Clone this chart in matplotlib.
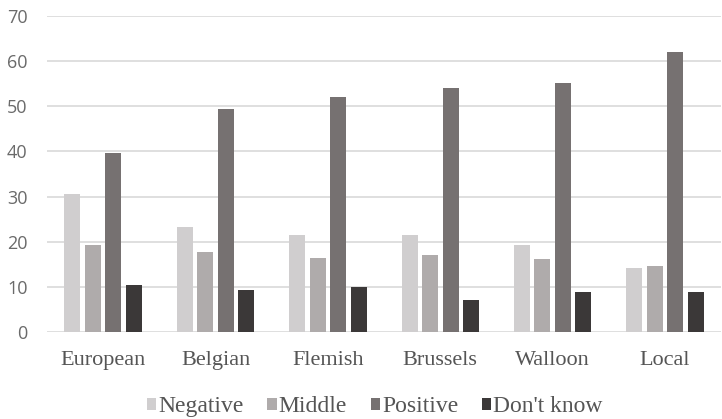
import matplotlib.pyplot as plt
import numpy as np

# data
regions = ["European", "Belgian", "Flemish", "Brussels", "Walloon", "Local"]
negative = [30.5, 23.2, 21.5, 21.5, 19.3, 14.1]
middle = [19.3, 17.8, 16.3, 17.0, 16.1, 14.6]
positive = [39.7, 49.5, 52.1, 54.0, 55.2, 62.0]
dont_know = [10.4, 9.3, 9.9, 7.1, 8.9, 8.9]

series = [("Negative", negative, "#d0cecf"),
          ("Middle", middle, "#afabab"),
          ("Positive", positive, "#767171"),
          ("Don't know", dont_know, "#3b3838")]

fig = plt.figure(figsize=(7.22, 4.19), dpi=100)
ax = fig.add_axes([0.065, 0.2076, 0.934, 0.7542])

x = np.arange(len(regions))
pitch = 0.182
width = 0.142
for i, (name, vals, col) in enumerate(series):
    ax.bar(x + (i - 1.5) * pitch, vals, width, color=col, label=name, zorder=3)

ax.set_xlim(-0.5, len(regions) - 0.5)
ax.set_ylim(0, 70)
ax.set_yticks(range(0, 71, 10))
ax.yaxis.grid(True, color="#d9d9d9", linewidth=1.2, zorder=0)
for s in ax.spines.values():
    s.set_visible(False)
ax.tick_params(length=0)
ax.tick_params(axis="y", pad=14, labelsize=13, labelcolor="#6a6a6a")
ax.set_xticks(x)
ax.set_xticklabels(regions, family="Liberation Serif", fontsize=16, color="#555555")
ax.tick_params(axis="x", pad=14)
for lab in ax.get_yticklabels():
    lab.set_family("Open Sans")

ax.legend(loc="lower center", bbox_to_anchor=(0.486, -0.337), ncol=4, frameon=False,
          prop={"family": "Liberation Serif", "size": 17}, labelcolor="#555555",
          handlelength=0.4, handleheight=0.4, handletextpad=0.08, columnspacing=1.0)

fig.savefig("out.png", dpi=100)
